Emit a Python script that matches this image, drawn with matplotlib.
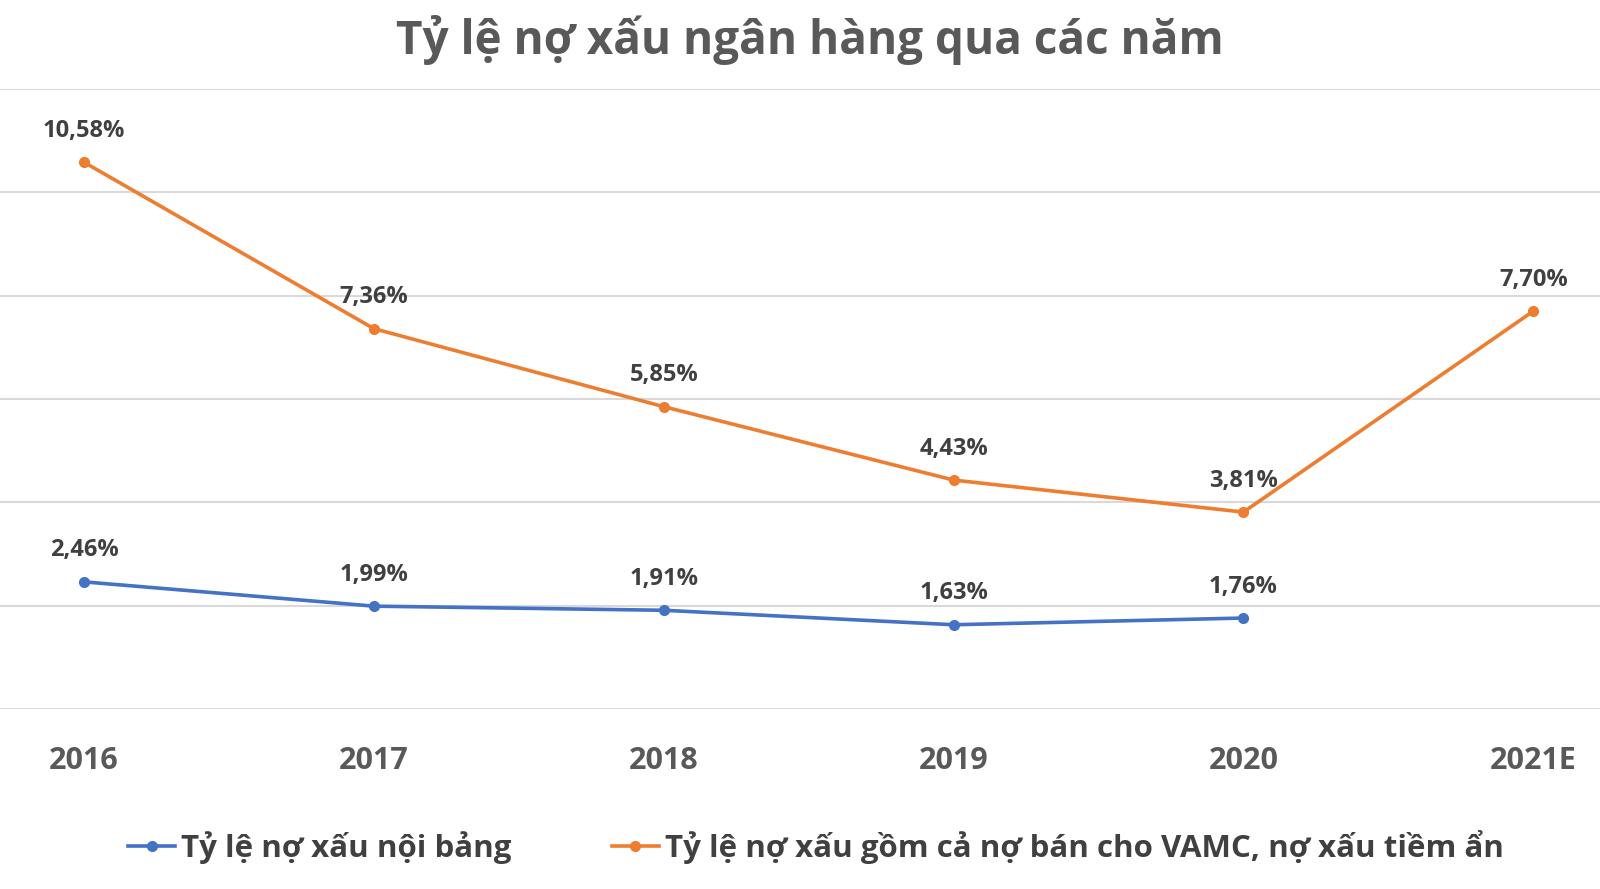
import matplotlib
matplotlib.use("Agg")
from matplotlib import pyplot as plt

years = ['2016', '2017', '2018', '2019', '2020', '2021E']
noi_bang = [2.46, 1.99, 1.91, 1.63, 1.76]
tiem_an = [10.58, 7.36, 5.85, 4.43, 3.81, 7.70]
label_noi_bang = 'Tỷ lệ nợ xấu nội bảng'
label_tiem_an = 'Tỷ lệ nợ xấu gồm cả nợ bán cho VAMC, nợ xấu tiềm ẩn'

plt.rcParams['font.family'] = ['Open Sans', 'DejaVu Sans']

blue = '#4472C4'
orange = '#ED7D31'
txt = '#404040'

fig = plt.figure(figsize=(16, 8.89), dpi=100)
ax = fig.add_axes([0, 0.2025, 1, 0.6975])

x1 = list(range(len(noi_bang)))
x2 = list(range(len(tiem_an)))
ax.plot(x1, noi_bang, color=blue, lw=2.6, marker='o', ms=7, label=label_noi_bang)
ax.plot(x2, tiem_an, color=orange, lw=2.6, marker='o', ms=7, label=label_tiem_an)

for x, v in zip(x1, noi_bang):
    ax.annotate(f'{v:.2f}%'.replace('.', ','), (x, v), xytext=(0, 14), textcoords='offset points',
                ha='center', va='bottom', fontsize=17, fontweight='bold', color=txt)
for x, v in zip(x2, tiem_an):
    ax.annotate(f'{v:.2f}%'.replace('.', ','), (x, v), xytext=(0, 14), textcoords='offset points',
                ha='center', va='bottom', fontsize=17, fontweight='bold', color=txt)

ax.set_xlim(-0.29, 5.23)
ax.set_ylim(0, 12)
ax.set_yticks(range(0, 13, 2))
ax.yaxis.grid(True, color='#d9d9d9', lw=1.5)
ax.set_axisbelow(True)
ax.tick_params(axis='y', left=False, labelleft=False)
ax.set_xticks(x2)
ax.set_xticklabels(years, fontsize=22, fontweight='bold', color='#595959')
ax.tick_params(axis='x', length=0, pad=27)
for s in ax.spines.values():
    s.set_visible(False)

fig.suptitle('Tỷ lệ nợ xấu ngân hàng qua các năm', x=0.506, y=0.983, va='top',
             fontsize=33, fontweight='bold', color='#595959')

leg = fig.legend(loc='center', bbox_to_anchor=(0.51, 0.047), ncol=2, frameon=False,
                 prop={'size': 22.5, 'weight': 'bold'}, handlelength=1.5, handletextpad=0.2,
                 columnspacing=3.2)
for t in leg.get_texts():
    t.set_color(txt)

fig.savefig('out.png', dpi=100)
